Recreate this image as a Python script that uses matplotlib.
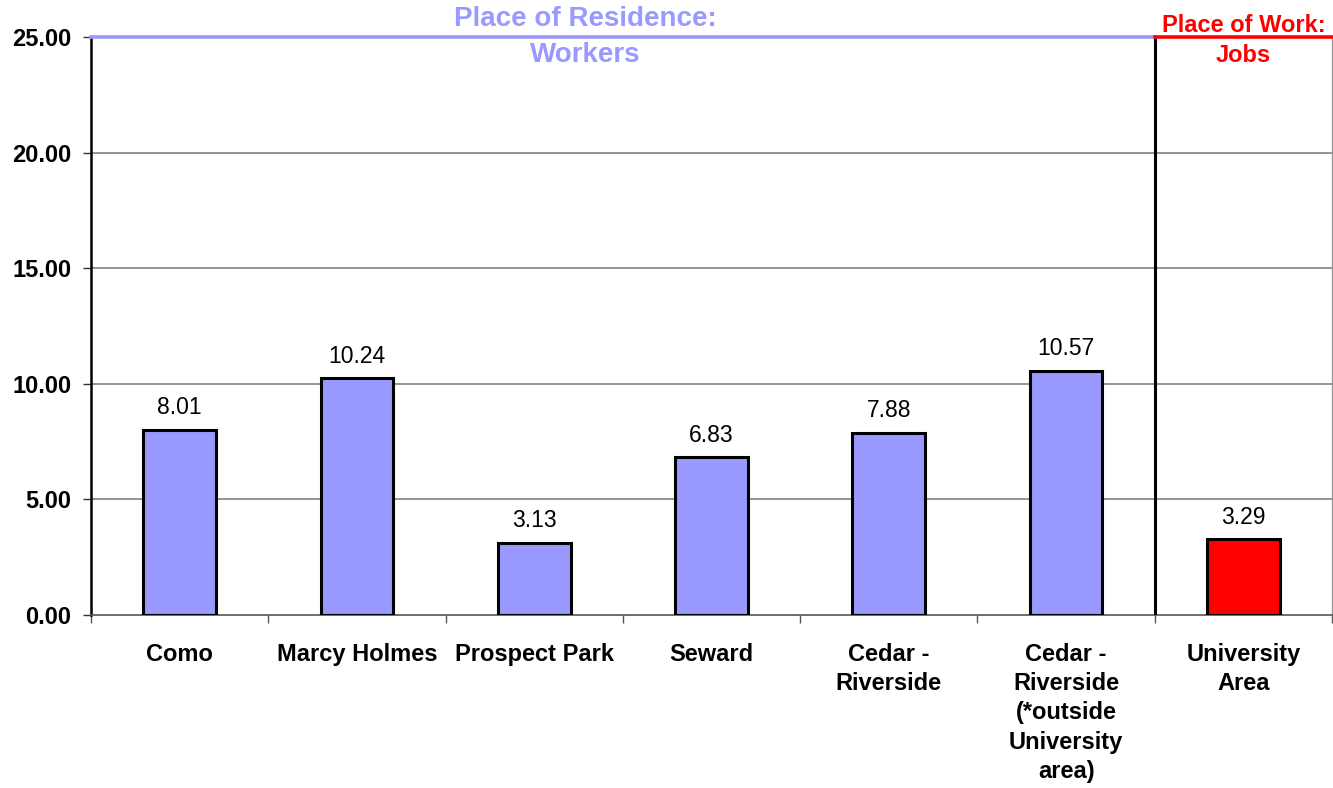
import matplotlib
matplotlib.use("Agg")
import matplotlib.pyplot as plt
import numpy as np

categories = ["Como", "Marcy Holmes", "Prospect Park", "Seward", "Cedar -\nRiverside",
              "Cedar -\nRiverside\n(*outside\nUniversity\narea)", "University\nArea"]
values = [8.01, 10.24, 3.13, 6.83, 7.88, 10.57, 3.29]
labels = ["8.01", "10.24", "3.13", "6.83", "7.88", "10.57", "3.29"]
bar_colors = ["#9999FF"] * 6 + ["#FF0000"]
yticks = [0, 5, 10, 15, 20, 25]

plt.rcParams['font.family'] = ['Liberation Sans', 'DejaVu Sans']

fig = plt.figure(figsize=(13.33, 7.88), dpi=100)
ax = fig.add_axes([91/1333, (788-615)/788, 1241/1333, (615-37)/788])

x = np.arange(len(categories))
ax.bar(x, values, width=0.41, color=bar_colors, edgecolor="black", linewidth=2.2, zorder=3)
for xi, v, lab in zip(x, values, labels):
    ax.text(xi, v + 0.45, lab, ha="center", va="bottom", fontsize=16.5, zorder=4)

ax.set_xlim(-0.5, len(categories) - 0.5)
ax.set_ylim(0, 25)
ax.set_yticks(yticks)
ax.set_yticklabels([f"{t:.2f}" for t in yticks], fontsize=17, fontweight="bold")
ax.set_xticks(x)
ax.set_xticklabels(categories, fontsize=17, fontweight="bold", linespacing=1.35)
ax.tick_params(axis="x", which="major", length=0, pad=20)
ax.set_xticks(np.arange(-0.5, len(categories) - 0.4, 1.0), minor=True)
ax.tick_params(axis="x", which="minor", length=6, width=1, color="#555555", direction="out")
ax.tick_params(axis="y", length=6, width=1, direction="out", color="#333333", pad=8)

for t in yticks[1:-1]:
    ax.axhline(t, color="#777777", linewidth=1.1, zorder=1)

# top colored lines
ax.plot([-0.5, 5.5], [25, 25], color="#9999FF", linewidth=2.6, clip_on=False, zorder=5)
ax.plot([5.5, 6.5], [25, 25], color="#FF0000", linewidth=2.6, clip_on=False, zorder=5)
ax.plot([5.5, 5.5], [0, 25], color="black", linewidth=2.2, zorder=4)

ax.text(2.29, 25.0, "Place of Residence:\nWorkers", color="#9999FF", fontsize=20, fontweight="bold",
        ha="center", va="center", linespacing=1.47, clip_on=False, zorder=6)
ax.text(6.0, 24.85, "Place of Work:\nJobs", color="#FF0000", fontsize=17, fontweight="bold",
        ha="center", va="center", linespacing=1.37, clip_on=False, zorder=6)

ax.spines["top"].set_visible(False)
ax.spines["left"].set_color("black")
ax.spines["left"].set_linewidth(1.8)
ax.spines["bottom"].set_color("#555555")
ax.spines["bottom"].set_linewidth(1.2)
ax.spines["right"].set_color("#999999")
ax.spines["right"].set_linewidth(1.0)

fig.savefig("out.png", dpi=100)
